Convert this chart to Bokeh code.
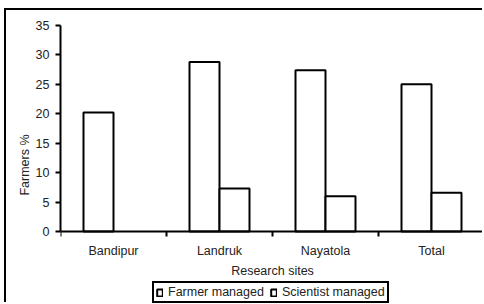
import numpy as np
from bokeh.plotting import figure
from bokeh.models import ColumnDataSource, Range1d, FixedTicker, Legend, LegendItem, Span
from bokeh.core.properties import value
from bokeh.embed import file_html
from bokeh.resources import INLINE

sites = ["Bandipur", "Landruk", "Nayatola", "Total"]
farmer = [20.2, 28.8, 27.4, 25.0]
scientist = [np.nan, 7.3, 6.0, 6.6]
y_ticks = [0, 5, 10, 15, 20, 25, 30, 35]
x_title = "Research sites"
y_title = "Farmers %"

FONT = "Liberation Sans"
TXT = "#222222"
FS = "12.5px"
bar_w = 0.283

n = len(sites)
idx = np.arange(n)
src = ColumnDataSource(dict(
    xf=idx + 0.5 - bar_w / 2,
    xs=idx + 0.5 + bar_w / 2,
    farmer=farmer,
    scientist=scientist,
))
lab_src = ColumnDataSource(dict(x=idx + 0.5, y=np.zeros(n), text=sites))
bounds = list(range(n + 1))
tick_src = ColumnDataSource(dict(x=bounds, y0=[0.0] * len(bounds), y1=[-0.85] * len(bounds)))

# frame extends to the bottom of the canvas; x axis drawn at y = 0
p = figure(width=478, height=294, output_backend="svg", toolbar_location=None,
           x_range=Range1d(0, n), y_range=Range1d(-12.4, 35), x_axis_location=None,
           min_border_left=54, min_border_right=0, min_border_top=15, min_border_bottom=0)
p.styles = {"margin-left": "4px", "margin-top": "8px",
            "border-left": "2px solid black", "border-top": "2px solid black"}
p.outline_line_color = None
p.xgrid.visible = False
p.ygrid.visible = False
p.background_fill_color = "white"
p.border_fill_color = "white"

rf = p.vbar(x="xf", top="farmer", width=bar_w, source=src, fill_color="white",
            line_color="black", line_width=2)
rs = p.vbar(x="xs", top="scientist", width=bar_w, source=src, fill_color="white",
            line_color="black", line_width=2)

# x axis line, ticks at category boundaries, labels, title
p.add_layout(Span(location=0, dimension="width", line_color="black", line_width=2))
p.segment(x0="x", y0="y0", x1="x", y1="y1", source=tick_src, line_color="black", line_width=2)
p.text(x="x", y="y", text="text", source=lab_src, y_offset=19,
       text_align="center", text_baseline="middle", text_font=value(FONT),
       text_font_size=value(FS), text_color=TXT)
p.text(x=[n / 2], y=[0], text=[x_title], y_offset=39,
       text_align="center", text_baseline="middle", text_font=value(FONT),
       text_font_size=value(FS), text_color=TXT)

# y axis
ya = p.yaxis[0]
ya.bounds = (0, 35)
ya.ticker = FixedTicker(ticks=y_ticks)
ya.axis_line_width = 2
ya.axis_line_color = "black"
ya.major_tick_line_width = 2
ya.major_tick_line_color = "black"
ya.major_tick_out = 5
ya.major_tick_in = 0
ya.minor_tick_line_color = None
ya.major_label_text_font = FONT
ya.major_label_text_font_size = FS
ya.major_label_text_color = TXT
ya.major_label_standoff = 6
ya.axis_label = y_title
ya.axis_label_text_font = FONT
ya.axis_label_text_font_size = FS
ya.axis_label_text_font_style = "normal"
ya.axis_label_text_color = TXT
ya.axis_label_standoff = 1

legend = Legend(items=[LegendItem(label="Farmer managed", renderers=[rf]),
                       LegendItem(label="Scientist managed", renderers=[rs])],
                location=(92, 1), orientation="horizontal")
legend.label_text_font = FONT
legend.label_text_font_size = FS
legend.label_text_color = TXT
legend.glyph_width = 7
legend.glyph_height = 9
legend.label_height = 12
legend.label_standoff = 5
legend.spacing = 6
legend.padding = 2
legend.margin = 0
legend.border_line_color = "black"
legend.border_line_width = 2
legend.border_line_alpha = 1
legend.background_fill_color = "white"
legend.background_fill_alpha = 1
p.add_layout(legend)

open("out.html", "w").write(file_html(p, INLINE))
